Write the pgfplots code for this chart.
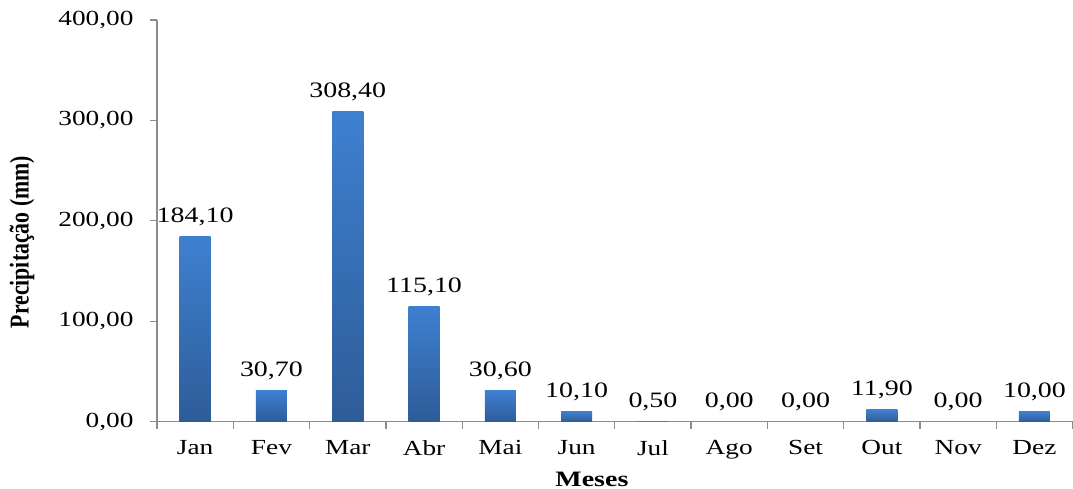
\documentclass[border=0pt]{standalone}
\usepackage{fontspec}
\setmainfont{Liberation Serif}[FakeStretch=1.27]
\usepackage{graphicx}
\usepackage{pgfplots}
\pgfplotsset{compat=1.18}

\definecolor{bartop}{HTML}{3E80D0}
\definecolor{barbottom}{HTML}{2E5C98}
\definecolor{axisgray}{HTML}{8C8C8C}

\pgfkeys{/pgf/number format/ptbr/.style={
  /pgf/number format/fixed,
  /pgf/number format/fixed zerofill,
  /pgf/number format/precision=2,
  /pgf/number format/use comma,
  /pgf/number format/1000 sep={},
  /pgf/number format/assume math mode=true}}

% one bar per month, each with its own vertical gradient
\pgfplotsset{monthbar/.style={draw=none, top color=bartop, bottom color=barbottom, bar shift=0pt}}

\begin{document}
\begin{tikzpicture}[x=1bp,y=1bp]
\begin{axis}[
  at={(0,0)}, anchor=south west,
  scale only axis,
  width=915.6bp, height=401.7bp,
  xmin=-0.5, xmax=11.5,
  ymin=0, ymax=400,
  axis x line*=bottom, axis y line*=left,
  axis line style={axisgray, line width=1.3bp},
  xtick={0,...,11},
  xticklabels={Jan,Fev,Mar,Abr,Mai,Jun,Jul,Ago,Set,Out,Nov,Dez},
  minor xtick={-0.5,0.5,...,11.5},
  ytick={0,100,200,300,400},
  tick align=outside,
  major x tick style={draw=none},
  minor tick length=7bp,
  major tick length=7bp,
  every tick/.style={axisgray, line width=1.3bp},
  /pgf/number format/assume math mode=true,
  tick label style={font=\fontsize{21.5bp}{24bp}\selectfont, text=black},
  y tick label style={xshift=-13bp, /pgf/number format/ptbr},
  x tick label style={yshift=-8bp},
  xlabel={\textbf{Meses}},
  xlabel style={at={(axis description cs:0.475,-0.143)}, anchor=center, font=\fontsize{22bp}{24bp}\selectfont},
  ylabel={\scalebox{1}[1.25]{\addfontfeatures{FakeStretch=1}\textbf{Precipitação (mm)}}},
  ylabel style={at={(axis description cs:-0.1474,0.447)}, anchor=center, font=\fontsize{21.8bp}{24bp}\selectfont},
  ybar, bar width=31bp,
  nodes near coords,
  nodes near coords style={font=\fontsize{22bp}{24bp}\selectfont, anchor=base, inner sep=0pt, yshift=14bp,
    /pgf/number format/ptbr},
  clip=false,
]
\addplot[monthbar] coordinates {(0,184.10)};
\addplot[monthbar] coordinates {(1,30.70)};
\addplot[monthbar] coordinates {(2,308.40)};
\addplot[monthbar] coordinates {(3,115.10)};
\addplot[monthbar] coordinates {(4,30.60)};
\addplot[monthbar] coordinates {(5,10.10)};
\addplot[monthbar] coordinates {(6,0.50)};
\addplot[monthbar] coordinates {(7,0.00)};
\addplot[monthbar] coordinates {(8,0.00)};
\addplot[monthbar] coordinates {(9,11.90)};
\addplot[monthbar] coordinates {(10,0.00)};
\addplot[monthbar] coordinates {(11,10.00)};
\end{axis}
\pgfresetboundingbox
\path (-157,-67.3) rectangle (916,421.7);
\end{tikzpicture}
\end{document}
